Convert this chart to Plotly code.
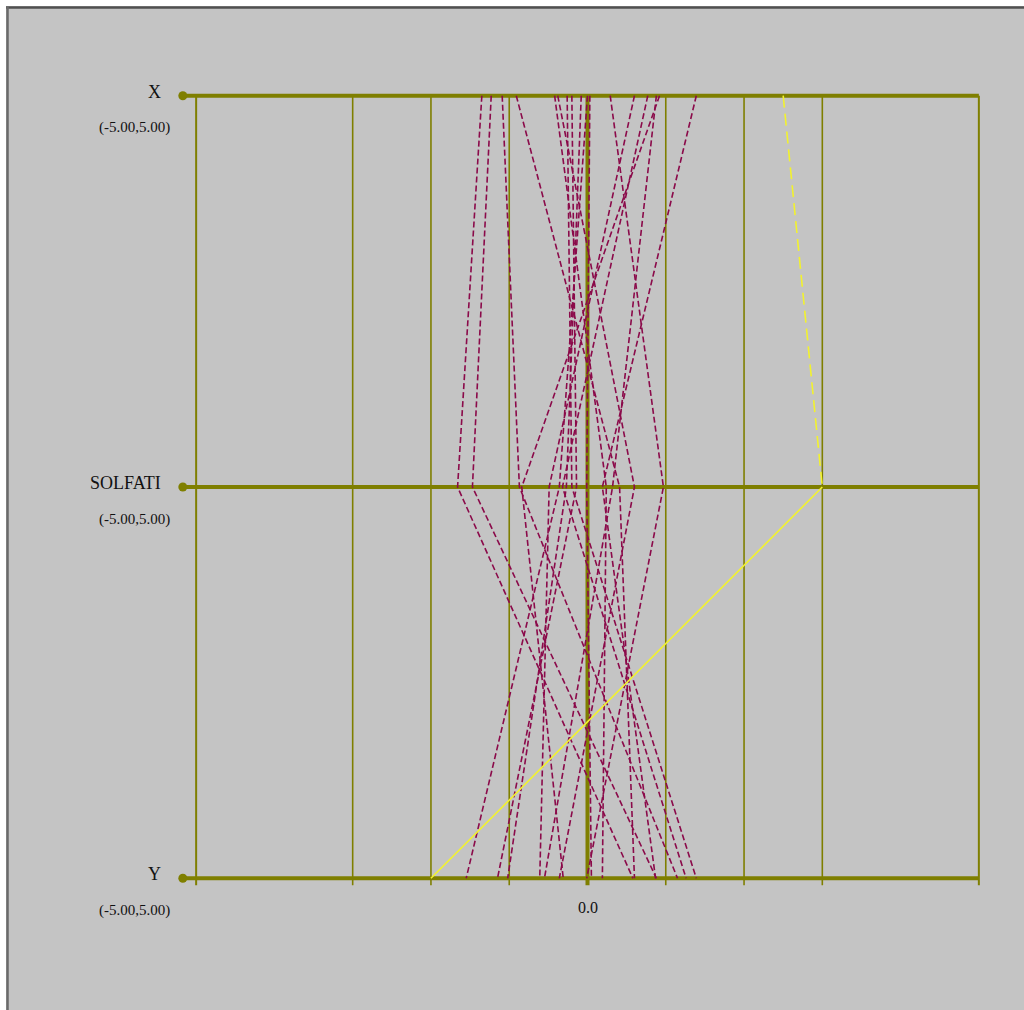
import plotly.graph_objects as go

# ---------------- data ----------------
AXES = ["X", "SOLFATI", "Y"]
AXIS_RANGE_LABELS = ["(-5.00,5.00)", "(-5.00,5.00)", "(-5.00,5.00)"]
AXIS_LEVELS = [2, 1, 0]          # vertical order of the parallel axes (top -> bottom)

X_VALS = [-1.35, -1.23, -1.09, -0.91, -0.42, -0.38, -0.26, -0.20, -0.08,
          0.03, 0.29, 0.60, 0.77, 0.88, 0.92, 1.39, 0.00]
SOLFATI_VALS = [-1.66, -1.47, -0.87, 0.41, 0.24, 0.60, -0.20, -0.14, -0.27,
                -0.01, 0.97, -0.49, -0.32, 0.32, -0.84, 0.19, -0.36]
Y_VALS = [0.58, 0.88, 1.15, 0.60, 0.19, -0.36, 1.39, -1.15, -1.02,
          0.05, -0.01, -0.61, 1.26, -0.55, -0.31, 0.87, -1.55]

HL_X, HL_SOLFATI, HL_Y = 2.5, 3.0, -2.0   # highlighted (yellow) observation

GRID_TICKS = [-5, -3, -2, -1, 0, 1, 2, 3, 5]
ZERO_LABEL = "0.0"

# ---------------- styles ----------------
BG = "#C4C4C4"
OLIVE = "#7F7F00"
MAROON = "#8B0A4A"
YELLOW = "#F2F22E"

W, H = 1024, 1010
ML, MR, MT, MB = 157, 6, 37, 73
XR = [-5.5, 5.5]
YR = [-0.15, 2.15]
DOT_X = -5.17


def px2paper_x(px):
    return (px - ML) / (W - ML - MR)


def px2paper_y(py):
    return 1 - (py - MT) / (H - MT - MB)


fig = go.Figure()

# horizontal axis lines
for lvl in AXIS_LEVELS:
    fig.add_trace(go.Scatter(x=[DOT_X, 5], y=[lvl, lvl], mode="lines",
                             line=dict(color=OLIVE, width=4),
                             hoverinfo="skip", showlegend=False))

# data polylines
for xv, sv, yv in zip(X_VALS, SOLFATI_VALS, Y_VALS):
    fig.add_trace(go.Scatter(x=[xv, sv, yv], y=AXIS_LEVELS, mode="lines",
                             line=dict(color=MAROON, width=1.6, dash="6px,3px"),
                             showlegend=False))

# highlighted observation
fig.add_trace(go.Scatter(x=[HL_X, HL_SOLFATI], y=AXIS_LEVELS[:2], mode="lines",
                         line=dict(color=YELLOW, width=1.6, dash="12px,6px"),
                         showlegend=False))
fig.add_trace(go.Scatter(x=[HL_SOLFATI, HL_Y], y=AXIS_LEVELS[1:], mode="lines",
                         line=dict(color=YELLOW, width=1.6),
                         showlegend=False))

# axis end dots
fig.add_trace(go.Scatter(x=[DOT_X] * len(AXIS_LEVELS), y=AXIS_LEVELS, mode="markers",
                         marker=dict(color=OLIVE, size=9, line=dict(width=0)),
                         cliponaxis=False, showlegend=False, hoverinfo="skip"))

shapes = []
# vertical grid lines
for t in GRID_TICKS:
    w = 4 if t == 0 else (2 if abs(t) == 5 else 1.6)
    shapes.append(dict(type="line", xref="x", yref="y", x0=t, x1=t, y0=-0.018, y1=2,
                       line=dict(color=OLIVE, width=w), layer="below"))

# window frame (white strip + dark border at top and left)
shapes.append(dict(type="rect", xref="paper", yref="paper",
                   x0=px2paper_x(0), x1=px2paper_x(W), y0=px2paper_y(0), y1=px2paper_y(6),
                   fillcolor="white", line=dict(width=0), layer="above"))
shapes.append(dict(type="rect", xref="paper", yref="paper",
                   x0=px2paper_x(0), x1=px2paper_x(6), y0=px2paper_y(0), y1=px2paper_y(H),
                   fillcolor="white", line=dict(width=0), layer="above"))
shapes.append(dict(type="line", xref="paper", yref="paper",
                   x0=px2paper_x(6), x1=px2paper_x(W), y0=px2paper_y(7.5), y1=px2paper_y(7.5),
                   line=dict(color="#505050", width=2.5), layer="above"))
shapes.append(dict(type="line", xref="paper", yref="paper",
                   x0=px2paper_x(7.5), x1=px2paper_x(7.5), y0=px2paper_y(7), y1=px2paper_y(H),
                   line=dict(color="#6A6A6A", width=2.5), layer="above"))

annotations = []
FONT = "Liberation Serif"
for name, rlab, lvl in zip(AXES, AXIS_RANGE_LABELS, AXIS_LEVELS):
    annotations.append(dict(x=-5.42, y=lvl, xref="x", yref="y", text=name,
                            showarrow=False, xanchor="right", yanchor="middle",
                            yshift=4, font=dict(family=FONT, size=18, color="#111111")))
    annotations.append(dict(x=-5.31, y=lvl, xref="x", yref="y", text=rlab,
                            showarrow=False, xanchor="right", yanchor="middle",
                            yshift=-32, font=dict(family=FONT, size=15, color="#111111")))
annotations.append(dict(x=0, y=0, xref="x", yref="y", text=ZERO_LABEL,
                        showarrow=False, xanchor="center", yanchor="middle",
                        yshift=-29, font=dict(family=FONT, size=16, color="#111111")))

fig.update_layout(
    width=W, height=H,
    margin=dict(l=ML, r=MR, t=MT, b=MB, pad=0),
    paper_bgcolor=BG, plot_bgcolor=BG,
    xaxis=dict(range=XR, visible=False, fixedrange=True),
    yaxis=dict(range=YR, visible=False, fixedrange=True),
    shapes=shapes, annotations=annotations,
    showlegend=False,
)

fig.write_html("out.html", config={"displayModeBar": False},
               post_script="document.body.style.margin='0';document.body.style.overflow='hidden';")
